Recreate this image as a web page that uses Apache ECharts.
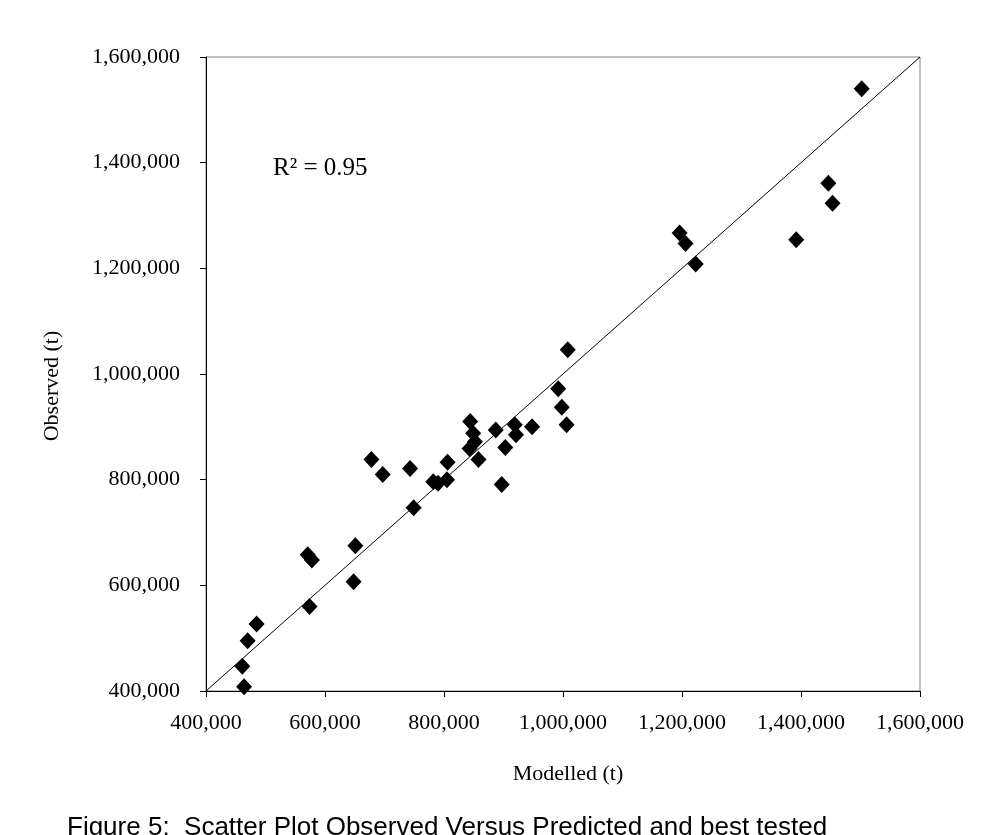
<!DOCTYPE html>
<html>
<head>
<meta charset="utf-8">
<script src="https://cdn.jsdelivr.net/npm/echarts@6/dist/echarts.min.js"></script>
<style>
  html, body { margin: 0; padding: 0; background: #fff; }
  #chart { width: 1003px; height: 835px; }
</style>
</head>
<body>
<div id="chart"></div>
<script>
// modelled vs observed tonnage
const modelled = [
  1502000, 1446000, 1453000, 1392000, 1196000, 1206000, 1223000,
  1008000, 992000, 998000, 1006000, 948000, 919000, 921000, 887000, 903000, 897000,
  844000, 849000, 852000, 843000, 858000,
  806000, 805000, 782000, 790000,
  743000, 697000, 678000, 749000,
  651000, 648000, 571000, 578000, 574000,
  485000, 470000, 461000, 464000
];
const observed = [
  1540000, 1361000, 1323000, 1254000, 1267000, 1247000, 1208000,
  1046000, 972000, 937000, 904000, 900000, 904000, 885000, 894000, 861000, 791000,
  910000, 888000, 872000, 859000, 838000,
  833000, 800000, 796000, 793000,
  821000, 810000, 838000, 747000,
  675000, 607000, 658000, 648000, 560000,
  527000, 495000, 447000, 408000
];
// 1:1 line
const oneToOne = [[400000, 400000], [1600000, 1600000]];
const axisMin = 400000;
const axisMax = 1600000;
const axisStep = 200000;

const serif = "'Liberation Serif', 'Times New Roman', serif";
const fmt = (v) => v.toLocaleString("en-US");

const chart = echarts.init(document.getElementById("chart"));

const axisCommon = {
  type: "value",
  min: axisMin,
  max: axisMax,
  interval: axisStep,
  splitLine: { show: false },
  axisLine: { show: true, onZero: false, lineStyle: { color: "#000", width: 1 } },
  axisTick: { show: true, inside: false, length: 6, lineStyle: { color: "#000" } },
  nameLocation: "middle",
};

chart.setOption({
  animation: false,
  grid: {
    left: 206, right: 83, top: 57, bottom: 144,
    show: true, borderColor: "#808080", borderWidth: 1,
  },
  xAxis: {
    ...axisCommon,
    name: "Modelled (t)",
    nameGap: 72,
    nameTextStyle: { fontFamily: serif, fontSize: 22, color: "#000", padding: [0, 0, 0, 10] },
    axisLabel: { fontFamily: serif, fontSize: 22, color: "#000", margin: 21, formatter: fmt },
  },
  yAxis: {
    ...axisCommon,
    name: "Observed (t)",
    nameGap: 143,
    nameTextStyle: { fontFamily: serif, fontSize: 22, color: "#000", padding: [0, 24, 0, 0] },
    axisLabel: { fontFamily: serif, fontSize: 22, color: "#000", margin: 26, formatter: fmt },
  },
  graphic: [
    {
      type: "text",
      left: 273,
      top: 156,
      style: {
        text: "R² = 0.95",
        font: "25px " + serif,
        fill: "#000",
      },
    },
    {
      type: "text",
      left: 67,
      top: 815,
      style: {
        text: "Figure 5:  Scatter Plot Observed Versus Predicted and best tested",
        font: "26px 'Liberation Sans', Arial, sans-serif",
        fill: "#000",
      },
    },
  ],
  series: [
    {
      type: "line",
      data: oneToOne,
      showSymbol: false,
      symbol: "none",
      lineStyle: { color: "#000", width: 1 },
      silent: true,
      z: 1,
    },
    {
      type: "scatter",
      data: modelled.map((m, i) => [m, observed[i]]),
      symbol: "diamond",
      symbolSize: [16, 17],
      itemStyle: { color: "#000", opacity: 1 },
      z: 2,
    },
  ],
});
</script>
</body>
</html>
